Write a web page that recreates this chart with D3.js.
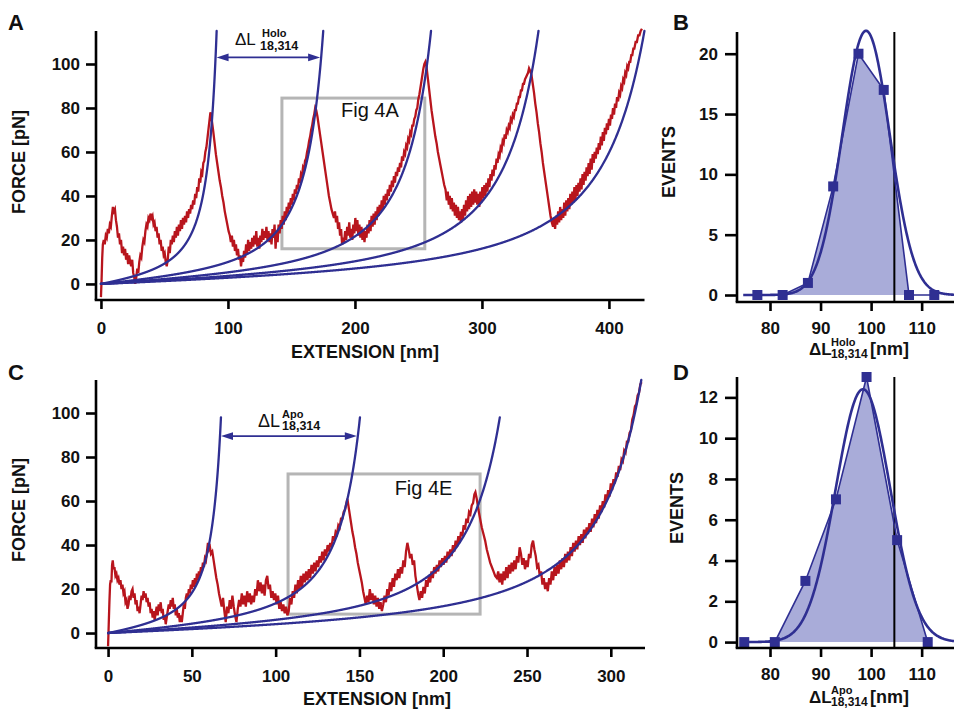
<!DOCTYPE html>
<html><head><meta charset="utf-8">
<script src="https://cdn.jsdelivr.net/npm/d3@7"></script>
<style>
body{margin:0;background:#fff}
svg text{font-family:"Liberation Sans",Arial,Helvetica,sans-serif;fill:#111}
</style></head><body>
<svg id="fig" width="954" height="709"></svg>
<script>
// ---------------- DATA ----------------
const forceTicks = [0, 20, 40, 60, 80, 100];
const extTicksA = [0, 100, 200, 300, 400];
const extTicksC = [0, 50, 100, 150, 200, 250, 300];
const histXTicks = [80, 90, 100, 110];
const histYTicksB = [0, 5, 10, 15, 20];
const histYTicksD = [0, 2, 4, 6, 8, 10, 12];

// worm-like-chain fits: kT/p (pN) and contour lengths (nm), top force of each drawn fit (pN)
const wlcForceScale = 8.2;
const contourA = [105.5, 202.7, 301, 399, 495.6];
const fitTopA = [115, 115, 115, 115, 115];
const contourC = [79.1, 176.5, 274.5, 368.5];
const fitTopC = [98, 98, 98, 115];

// ΔL arrows: force level (pN) between fit 0 and fit 1
const arrowForceA = 103;
const arrowForceC = 89.5;

// grey boxes [x0, x1, f0, f1]
const boxA = [142.5, 255, 16, 84.5];
const boxC = [107.4, 222, 8.6, 72.3];
const boxLabelA = "Fig 4A";
const boxLabelC = "Fig 4E";

// force-extension traces [extension nm, force pN]
const traceA = [[0,-6],[0.5,2],[1,12],[1.5,18],[2.2,20],[3,18],[3.8,22],[4.6,21],[5.4,25],[6.2,23],[7,27],[7.8,26],[8.6,31],[9.4,35],[10.2,33],[11,34],[11.8,29],[12.6,26],
[13.4,21],[14.2,23],[15,18],[15.8,20],[16.6,14],[17.4,17],[18.2,13],[19,16],[19.8,11],[20.6,14],[21.4,9],[22.2,13],[23,10],[23.8,8],[24.6,11],[25.4,5],[26.2,3],[27,0],[27.8,3],
[28.6,7],[29.4,5],[30.2,10],[31,13],[31.8,12],[32.6,17],[33.4,20],[34.2,19],[35,24],[35.8,27],[36.6,26],[37.4,30],[38.2,29],[39,32],[39.8,30],
[40.6,31],[41.4,27],[42.2,28],[43,24],[43.8,26],[44.6,21],[45.4,23],[46.2,18],[47,20],[47.8,15],[48.6,17],[49.4,13],[50.2,14],[51,10],[51.8,8],[52.6,11],
[53.4,17],[54.2,14],[55,20],[55.8,18],[56.6,22],[57.4,19],[58.2,24],[59,21],[59.8,26],[60.6,22],[61.4,27],[62.2,24],[63,29],[63.8,25],[64.6,30],[65.4,27],[66.2,31],[67,28],[67.8,33],[68.6,30],[69.4,34],[70.2,32],[71,36],[71.8,34],[72.6,38],[73.4,36],[74.2,41],[75,39],[75.8,44],[76.6,42],[77.4,48],[78.2,46],[79,51],[79.8,50],[80.6,55],[81.4,56],[82.2,60],[83,62],[83.8,66],[84.6,70],[85.4,74],[86.2,78],[86.8,77],
[87.6,73],[88.5,69],[89.5,64],[90.5,59],[91.5,55],[92.5,51],[93.5,47],[94.5,44],[95.5,40],[96.5,37],[97.5,33],[98.5,30],[99.5,27],[100.5,24],[101.5,22],
[102.3,19],[103.1,22],[103.9,17],[104.7,20],[105.5,15],[106.3,18],[107.1,13],[107.9,16],[108.7,11],[109.5,13],[110.3,8],[111.1,12],[111.9,10],[112.7,15],[113.5,12],[114.3,18],[115.1,14],[115.9,20],[116.7,15],[117.5,19],[118.3,16],[119.1,21],[119.9,17],[120.7,22],[121.5,18],[122.3,24],[123.1,17],[123.9,21],[124.7,16],[125.5,22],[126.3,19],[127.1,25],[127.9,20],[128.7,24],[129.5,21],[130.3,26],[131.1,20],[131.9,24],[132.7,19],[133.5,23],[134.3,18],[135.1,25],[135.9,21],[136.7,27],[137.5,16],[138.3,24],[139.1,19],[139.9,27],[140.7,23],[141.5,29],[142.3,25],
[143.1,31],[143.9,27],[144.7,33],[145.5,29],[146.3,35],[147.1,32],[147.9,37],[148.7,34],[149.5,39],[150.3,36],[151.1,41],[151.9,38],[152.7,43],[153.5,41],[154.3,45],[155.1,43],[155.9,48],[156.7,46],[157.5,50],[158.3,49],[159.1,53],[159.9,52],[160.7,56],[161.5,57],[162.3,60],[163.1,62],[163.9,65],[164.7,67],[165.5,70],[166.3,72],[167.1,75],[167.9,77],[168.7,80],[169.5,79],
[170.5,76],[171.5,72],[172.5,68],[173.5,64],[174.5,60],[175.5,56],[176.5,52],[177.5,48],[178.5,44],[179.5,40],[180.5,37],[181.5,34],[182.5,32],[183.5,30],
[184.3,33],[185.1,28],[185.9,31],[186.7,25],[187.5,28],[188.3,22],[189.1,25],[189.9,18],[190.7,21],[191.5,19],[192.3,24],[193.1,20],[193.9,26],[194.7,22],[195.5,28],[196.3,21],[197.1,25],[197.9,20],[198.7,27],[199.5,23],[200.3,30],[201.1,24],[201.9,29],[202.7,22],[203.5,27],[204.3,21],[205.1,26],[205.9,20],[206.7,25],[207.5,19],[208.3,24],[209.1,21],[209.9,27],[210.7,23],[211.5,29],[212.3,24],[213.1,31],[213.9,26],[214.7,32],[215.5,27],[216.3,33],[217.1,29],[217.9,35],[218.7,31],[219.5,36],[220.3,33],[221.1,38],[221.9,34],[222.7,40],[223.5,36],[224.3,41],
[225.1,38],[225.9,43],[226.7,40],[227.5,45],[228.3,42],[229.1,47],[229.9,44],[230.7,49],[231.5,46],[232.3,51],[233.1,49],[233.9,53],[234.7,51],[235.5,55],[236.3,53],[237.1,58],[237.9,56],[238.7,60],[239.5,59],[240.3,63],[241.1,62],[241.9,66],[242.7,65],[243.5,69],[244.3,68],[245.1,72],[245.9,72],[246.7,75],[247.5,76],[248.3,79],[249.1,80],[249.9,84],[250.7,86],[251.5,89],[252.3,92],[253.1,95],[253.9,98],[254.7,100],[255.5,101],
[256.3,99],[257.3,94],[258.3,89],[259.3,84],[260.3,79],[261.3,75],[262.3,71],[263.3,67],[264.3,64],[265.3,60],[266.3,57],[267.3,54],[268.3,51],[269.3,48],[270.3,45],[271.3,43],
[272.3,38],[273.1,42],[273.9,36],[274.7,40],[275.5,34],[276.3,39],[277.1,33],[277.9,37],[278.7,31],[279.5,36],[280.3,30],[281.1,35],[281.9,29],[282.7,33],[283.5,28],[284.3,34],[285.1,29],[285.9,36],[286.7,31],[287.5,38],[288.3,33],[289.1,40],[289.9,34],[290.7,41],[291.5,35],[292.3,42],[293.1,36],[293.9,43],[294.7,37],[295.5,42],[296.3,36],[297.1,41],[297.9,35],[298.7,42],[299.5,37],[300.3,44],[301.1,39],[301.9,45],[302.7,40],[303.5,46],[304.3,42],
[305.1,48],[305.9,44],[306.7,50],[307.5,47],[308.3,52],[309.1,49],[309.9,54],[310.7,52],[311.5,57],[312.3,55],[313.1,59],[313.9,58],[314.7,62],[315.5,61],[316.3,65],[317.1,64],[317.9,68],[318.7,66],[319.5,70],[320.3,69],[321.1,72],[321.9,71],[322.7,75],[323.5,74],[324.3,77],[325.1,76],[325.9,79],[326.7,79],[327.5,82],[328.3,82],[329.1,85],[329.9,85],[330.7,88],[331.5,88],[332.3,91],[333.1,91],[333.9,93],[334.7,94],[335.5,95],[336.3,96],[337.1,98],[337.9,97],
[339,95],[340,91],[341,87],[342,82],[343,78],[344,73],[345,69],[346,64],[347,60],[348,55],[349,51],[350,47],[351,43],[352,39],[353,35],[354,31],[355,28],[356,26],
[356.8,30],[357.6,25],[358.4,31],[359.2,27],[360,33],[360.8,28],[361.6,35],[362.4,29],[363.2,34],[364,30],[364.8,37],[365.6,31],[366.4,38],[367.2,33],[368,39],[368.8,34],[369.6,41],[370.4,36],[371.2,42],[372,37],[372.8,44],[373.6,38],[374.4,45],[375.2,40],[376,46],[376.8,42],[377.6,48],[378.4,43],[379.2,50],[380,45],[380.8,51],[381.6,47],[382.4,53],[383.2,49],[384,55],[384.8,50],[385.6,57],[386.4,52],[387.2,59],[388,55],[388.8,60],[389.6,57],[390.4,62],[391.2,59],[392,64],[392.8,61],[393.6,67],[394.4,63],[395.2,69],[396,65],[396.8,71],[397.6,68],[398.4,73],[399.2,70],[400,75],[400.8,72],[401.6,77],[402.4,75],[403.2,80],[404,77],[404.8,82],[405.6,80],[406.4,85],[407.2,83],[408,87],[408.8,86],[409.6,90],[410.4,89],[411.2,93],[412,92],[412.8,96],[413.6,95],[414.4,99],[415.2,98],[416,101],[416.8,101],[417.6,104],[418.4,104],[419.2,107],[420,107],[421,110],[422,110],[423,113],[424,113],[425,115],[426,116]];

const traceC = [[0,-6],[0.4,4],[0.8,14],[1.2,22],[1.6,24],[2,23],[2.4,31],[2.8,33],[3.3,29],[3.8,30],[4.4,26],[5,27],[5.6,24],[6.2,25],[6.8,22],[7.4,24],[8,20],[8.6,22],[9.2,18],[9.8,19],[10.4,14],[11,15],[11.6,11],[12.2,13],[12.8,17],[13.4,15],[14,19],[14.6,20],[15.2,16],[15.8,18],[16.4,13],[17,15],[17.6,10],[18.2,12],[18.8,9],[19.4,13],[20,17],[20.6,15],[21.2,19],[21.8,16],[22.4,18],[23,14],[23.6,16],[24.2,12],[24.8,14],[25.4,9],[26,11],[26.6,7],[27.2,10],[27.8,6],[28.4,9],[29,12],[29.6,8],[30.2,13],[30.8,10],[31.4,14],[32,9],[32.6,11],[33.2,6],[33.8,8],[34.4,4],[35,7],[35.6,10],[36.2,13],[36.8,11],[37.4,15],[38,12],[38.6,16],[39.2,11],[39.8,13],[40.4,8],[41,11],[41.6,7],[42.2,9],[42.8,5],[43.4,8],[44,5],[44.6,9],[45.2,13],[45.8,11],[46.4,16],[47,18],[47.6,16],[48.2,20],[48.8,18],[49.4,22],[50,20],[50.6,24],[51.2,21],[51.8,25],[52.4,22],[53,27],[53.6,24],[54.2,28],[54.8,26],[55.4,30],[56,28],[56.6,32],[57.2,30],[57.8,34],[58.4,33],[59,37],[59.6,41],[60.2,38],[60.8,39],[61.4,36],
[62.2,37],[63,33],[63.8,29],[64.6,25],[65.4,22],[66.2,18],[67,15],[67.8,12],
[68.6,16],[69.4,10],[70.2,5],[71,12],[71.8,9],[72.6,15],[73.4,11],[74.2,17],[75,12],[75.8,8],[76.6,5],[77.4,11],[78.2,15],[79,12],[79.8,18],[80.6,13],[81.4,17],[82.2,12],[83,19],[83.8,14],[84.6,18],[85.4,13],[86.2,17],[87,14],[87.8,20],[88.6,17],[89.4,24],[90.2,19],[91,23],[91.8,18],[92.6,22],[93.4,17],[94.2,24],[95,26],[95.8,20],[96.6,22],[97.4,16],[98.2,19],[99,15],[99.8,18],[100.6,13],[101.4,17],[102.2,11],[103,14],[103.8,10],[104.6,13],[105.4,9],[106.2,12],[107,8],[107.8,10],
[108.6,16],[109.4,13],[110.2,19],[111,16],[111.8,22],[112.6,18],[113.4,24],[114.2,20],[115,26],[115.8,21],[116.6,27],[117.4,23],[118.2,28],[119,24],[119.8,29],[120.6,25],[121.4,31],[122.2,27],[123,32],[123.8,28],[124.6,33],[125.4,30],[126.2,35],[127,32],[127.8,37],[128.6,33],[129.4,38],[130.2,35],[131,40],[131.8,37],[132.6,41],[133.4,39],[134.2,44],[135,42],[135.8,46],[136.6,45],[137.4,49],[138.2,48],[139,52],[139.8,52],[140.6,55],[141.4,56],[142.2,59],[142.8,61],[143.4,58],
[144.2,54],[145,50],[145.8,46],[146.6,43],[147.4,39],[148.2,36],[149,32],[149.8,29],[150.6,26],[151.4,23],[152.2,19],[153,16],[153.8,13],
[154.6,17],[155.4,14],[156.2,20],[157,15],[157.8,18],[158.6,13],[159.4,17],[160.2,12],[161,16],[161.8,11],[162.6,14],[163.4,10],[164.2,13],[165,17],[165.8,14],[166.6,20],[167.4,17],[168.2,23],[169,19],[169.8,25],[170.6,21],[171.4,27],[172.2,24],[173,29],[173.8,25],[174.6,30],[175.4,27],[176.2,33],[177,30],[177.8,37],[178.6,41],[179.4,38],[180.2,34],[181,36],[181.8,31],[182.6,33],[183.4,26],[184.2,22],[185,18],[185.8,15],[186.6,19],[187.4,16],
[188.2,21],[189,18],[189.8,24],[190.6,21],[191.4,26],[192.2,23],[193,28],[193.8,25],[194.6,30],[195.4,27],[196.2,31],[197,28],[197.8,33],[198.6,30],[199.4,34],[200.2,31],[201,35],[201.8,32],[202.6,37],[203.4,34],[204.2,38],[205,35],[205.8,40],[206.6,37],[207.4,42],[208.2,39],[209,44],[209.8,41],[210.6,46],[211.4,44],[212.2,49],[213,47],[213.8,52],[214.6,50],[215.4,55],[216.2,54],[217,58],[217.8,59],[218.6,63],[219.2,64],
[220,61],[221,56],[222,52],[223,48],[224,45],[225,42],[226,38],[227,35],[228,32],[229,30],[230,28],[231,26],[232,25],
[232.8,28],[233.6,23],[234.4,27],[235.2,22],[236,28],[236.8,24],[237.6,30],[238.4,25],[239.2,31],[240,27],[240.8,32],[241.6,28],[242.4,33],[243.2,29],[244,35],[244.8,32],[245.6,39],[246.4,36],[247.2,31],[248,34],[248.8,29],[249.6,33],[250.4,30],[251.2,36],[252,34],[252.8,40],[253.6,42],[254.4,38],[255.2,35],[256,30],[256.8,31],[257.6,26],[258.4,28],[259.2,22],[260,25],[260.8,20],[261.6,23],[262.4,19],
[263.2,25],[264,22],[264.8,28],[265.6,24],[266.4,30],[267.2,26],[268,31],[268.8,27],[269.6,33],[270.4,29],[271.2,34],[272,30],[272.8,36],[273.6,32],[274.4,37],[275.2,33],[276,39],[276.8,35],[277.6,41],[278.4,37],[279.2,42],[280,38],[280.8,44],[281.6,40],[282.4,45],[283.2,41],[284,47],[284.8,43],[285.6,48],[286.4,45],[287.2,50],[288,46],[288.8,52],[289.6,48],[290.4,54],[291.2,50],[292,56],[292.8,52],[293.6,58],[294.4,55],[295.2,60],[296,57],[296.8,63],[297.6,60],[298.4,65],[299.2,62],[300,68],[300.8,65],[301.6,70],[302.4,68],[303.2,73],[304,71],[304.8,76],[305.6,74],[306.4,79],[307.2,78],[308,83],[308.8,82],[309.6,87],[310.4,87],[311.2,91],[312,92],[312.8,97],[313.6,99],[314.4,103],[315.2,104],[316,108],[316.8,109],[317.6,113],[318.4,114]];

// histograms
const binsB = [77.5, 82.5, 87.5, 92.5, 97.5, 102.5, 107.5, 112.5];
const countsB = [0, 0, 1, 9, 20, 17, 0, 0];
const gaussB = [99.0, 4.7, 21.9];   // centre, sigma, amplitude
const markerB = 104.6;
const binsD = [74.9, 80.95, 87.0, 93.05, 99.1, 105.15, 111.2];
const countsD = [0, 0, 3, 7, 13, 5, 0];
const gaussD = [98.4, 5.4, 12.4];
const markerD = 104.6;

// ---------------- DRAWING ----------------
const svg = d3.select("#fig");
const RED = "#b8151d", BLUE = "#2f2f92", FILL = "#a9acd9", GREY = "#b5b5b5";
const AXW = 2.6;

function wlc(x, L) { const r = x / L; return wlcForceScale * (1 / (4 * (1 - r) * (1 - r)) - 0.25 + r); }
function wlcCurve(L, fTop) {
  const pts = [];
  let prev = [0, 0];
  for (let x = 0; x < L * 0.97; x += L / 1500) {
    const f = wlc(x, L);
    if (f >= fTop) {
      const t = (fTop - prev[1]) / (f - prev[1]);
      pts.push([prev[0] + t * (x - prev[0]), fTop]);
      break;
    }
    pts.push([x, f]); prev = [x, f];
  }
  return pts;
}
function xAtForce(L, f) {
  let lo = 0, hi = L * 0.99;
  for (let i = 0; i < 60; i++) { const m = (lo + hi) / 2; if (wlc(m, L) < f) lo = m; else hi = m; }
  return (lo + hi) / 2;
}

function axes(x, y, xt, yt, xTickSize, yTickSize, yPad, xPad) {
  const gx = svg.append("g").attr("transform", `translate(0,${y.range()[0]})`)
    .call(d3.axisBottom(x).tickValues(xt).tickSizeOuter(0).tickSizeInner(xTickSize).tickPadding(xPad).tickFormat(d3.format("d")));
  const gy = svg.append("g").attr("transform", `translate(${x.range()[0]},0)`)
    .call(d3.axisLeft(y).tickValues(yt).tickSizeOuter(0).tickSizeInner(yTickSize).tickPadding(yPad).tickFormat(d3.format("d")));
  [gx, gy].forEach(g => {
    g.select(".domain").attr("stroke", "#000").attr("stroke-width", AXW);
    g.selectAll(".tick line").attr("stroke", "#000").attr("stroke-width", AXW);
    g.selectAll(".tick text").attr("fill", "#111").style("font-size", "17px").style("font-weight", "bold")
      .style("font-family", '"Liberation Sans",Arial,sans-serif');
  });
  gx.select(".domain").attr("d", `M${x.range()[0] - AXW / 2},0H${x.range()[1]}`);
  gy.select(".domain").attr("d", `M0,${y.range()[0]}V${y.range()[1]}`);
}

function arrowHead(g, xTip, y, dir) {
  const len = 12, hw = 3.8;
  g.append("path").attr("d", `M${xTip},${y}L${xTip - dir * len},${y - hw}L${xTip - dir * len},${y + hw}Z`).attr("fill", BLUE);
}

function forcePanel(cfg) {
  const x = d3.scaleLinear().domain(cfg.xDomain).range(cfg.xRange);
  const y = d3.scaleLinear().domain(cfg.yDomain).range(cfg.yRange);
  const g = svg.append("g");
  const b = cfg.box;
  g.append("rect").attr("x", x(b[0])).attr("y", y(b[3])).attr("width", x(b[1]) - x(b[0])).attr("height", y(b[2]) - y(b[3]))
    .attr("fill", "none").attr("stroke", GREY).attr("stroke-width", 3);
  g.append("text").attr("x", x(cfg.boxLabelPos[0])).attr("y", y(cfg.boxLabelPos[1])).text(cfg.boxLabel)
    .style("font-size", "20px").attr("fill", "#222");
  const line = d3.line().x(d => x(d[0])).y(d => y(d[1]));
  g.append("path").datum(cfg.trace).attr("d", line).attr("fill", "none").attr("stroke", RED)
    .attr("stroke-width", 2.3).attr("stroke-linejoin", "miter");
  cfg.contour.forEach((L, i) => {
    g.append("path").datum(wlcCurve(L, cfg.fitTop[i])).attr("d", line).attr("fill", "none")
      .attr("stroke", BLUE).attr("stroke-width", 2.3).attr("stroke-linecap", "round");
  });
  const ya = y(cfg.arrowForce);
  const x1 = x(xAtForce(cfg.contour[0], cfg.arrowForce)) + 1;
  const x2 = x(xAtForce(cfg.contour[1], cfg.arrowForce)) - 1;
  g.append("line").attr("x1", x1 + 8).attr("x2", x2 - 8).attr("y1", ya).attr("y2", ya).attr("stroke", BLUE).attr("stroke-width", 1.8);
  arrowHead(g, x1, ya, -1);
  arrowHead(g, x2, ya, 1);
  const t = cfg.dl;
  g.append("text").attr("x", t.x).attr("y", t.y).text("ΔL").style("font-size", t.fs + "px");
  g.append("text").attr("x", t.x + t.supDx).attr("y", t.y - t.supDy).text(t.sup).style("font-size", "11px").style("font-weight", "bold");
  g.append("text").attr("x", t.x + t.subDx).attr("y", t.y + t.subDy).text("18,314").style("font-size", "12.5px").style("font-weight", "bold");
  axes(x, y, cfg.xTicks, forceTicks, 9, 10, 6, 13);
  svg.append("text").attr("transform", `translate(${cfg.yTitle[0]},${cfg.yTitle[1]}) rotate(-90)`).attr("text-anchor", "middle")
    .text("FORCE [pN]").style("font-size", "18px").style("font-weight", "bold");
  svg.append("text").attr("x", cfg.xTitle[0]).attr("y", cfg.xTitle[1]).attr("text-anchor", "middle")
    .text("EXTENSION [nm]").style("font-size", "18px").style("font-weight", "bold");
}

function histPanel(cfg) {
  const x = d3.scaleLinear().domain([73.47, 116.5]).range([737, 954.5]);
  const y = d3.scaleLinear().domain(cfg.yDomain).range(cfg.yRange);
  const g = svg.append("g");
  const pts = cfg.bins.map((b, i) => [b, cfg.counts[i]]);
  g.append("path").datum(pts).attr("d", d3.area().x(d => x(d[0])).y0(y(0)).y1(d => y(d[1])))
    .attr("fill", FILL).attr("stroke", "none");
  g.append("line").attr("x1", x(cfg.marker)).attr("x2", x(cfg.marker)).attr("y1", cfg.yRange[1]).attr("y2", cfg.yRange[0])
    .attr("stroke", "#000").attr("stroke-width", 2);
  const [mu, sd, amp] = cfg.gauss;
  const gpts = d3.range(74.7, 116.5, 0.1).map(v => [v, amp * Math.exp(-((v - mu) ** 2) / (2 * sd * sd))]);
  const line = d3.line().x(d => x(d[0])).y(d => y(d[1]));
  g.append("path").datum(gpts).attr("d", line).attr("fill", "none").attr("stroke", BLUE).attr("stroke-width", 2.6);
  g.append("path").datum(pts).attr("d", line).attr("fill", "none").attr("stroke", BLUE).attr("stroke-width", 1.6);
  g.selectAll("rect.pt").data(pts).enter().append("rect")
    .attr("x", d => x(d[0]) - 5).attr("y", d => y(d[1]) - 5).attr("width", 10).attr("height", 10).attr("fill", BLUE);
  axes(x, y, histXTicks, cfg.yTicks, 9, 12, 7, 11);
  svg.append("text").attr("transform", `translate(${cfg.yTitle[0]},${cfg.yTitle[1]}) rotate(-90)`).attr("text-anchor", "middle")
    .text("EVENTS").style("font-size", "18px").style("font-weight", "bold");
  const tx = 809, ty = cfg.xTitleY;
  svg.append("text").attr("x", tx).attr("y", ty).text("ΔL").style("font-size", "17px").style("font-weight", "bold");
  svg.append("text").attr("x", tx + 22).attr("y", ty - 9).text(cfg.sup).style("font-size", "11px").style("font-weight", "bold");
  svg.append("text").attr("x", tx + 22).attr("y", ty + 3).text("18,314").style("font-size", "12px").style("font-weight", "bold");
  svg.append("text").attr("x", tx + 61).attr("y", ty).text("[nm]").style("font-size", "18px").style("font-weight", "bold");
}

forcePanel({
  xDomain: [-3.9, 428], xRange: [96, 644.5], yDomain: [-7.3, 115], yRange: [300, 31],
  trace: traceA, contour: contourA, fitTop: fitTopA, arrowForce: arrowForceA,
  box: boxA, boxLabel: boxLabelA, boxLabelPos: [189, 76], xTicks: extTicksA,
  dl: { x: 235, y: 45, fs: 17, sup: "Holo", supDx: 27, supDy: 8, subDx: 25, subDy: 5 },
  yTitle: [25, 162], xTitle: [365, 358]
});
forcePanel({
  xDomain: [-7.2, 320.4], xRange: [96, 645], yDomain: [-6.8, 115], yRange: [648, 380],
  trace: traceC, contour: contourC, fitTop: fitTopC, arrowForce: arrowForceC,
  box: boxC, boxLabel: boxLabelC, boxLabelPos: [171, 62.7], xTicks: extTicksC,
  dl: { x: 258, y: 427, fs: 18, sup: "Apo", supDx: 24, supDy: 9, subDx: 24, subDy: 3 },
  yTitle: [25, 510], xTitle: [377, 705]
});
histPanel({ yDomain: [-0.58, 21.8], yRange: [302, 32], bins: binsB, counts: countsB, gauss: gaussB, marker: markerB,
  yTicks: histYTicksB, yTitle: [675, 162], xTitleY: 355, sup: "Holo" });
histPanel({ yDomain: [-0.29, 13.0], yRange: [648, 377], bins: binsD, counts: countsD, gauss: gaussD, marker: markerD,
  yTicks: histYTicksD, yTitle: [683, 508], xTitleY: 703, sup: "Apo" });

[["A", 8, 30], ["B", 673, 30], ["C", 8, 380], ["D", 673, 380]].forEach(([t, px, py]) =>
  svg.append("text").attr("x", px).attr("y", py).text(t).style("font-size", "22px").style("font-weight", "bold"));
</script>
</body></html>
